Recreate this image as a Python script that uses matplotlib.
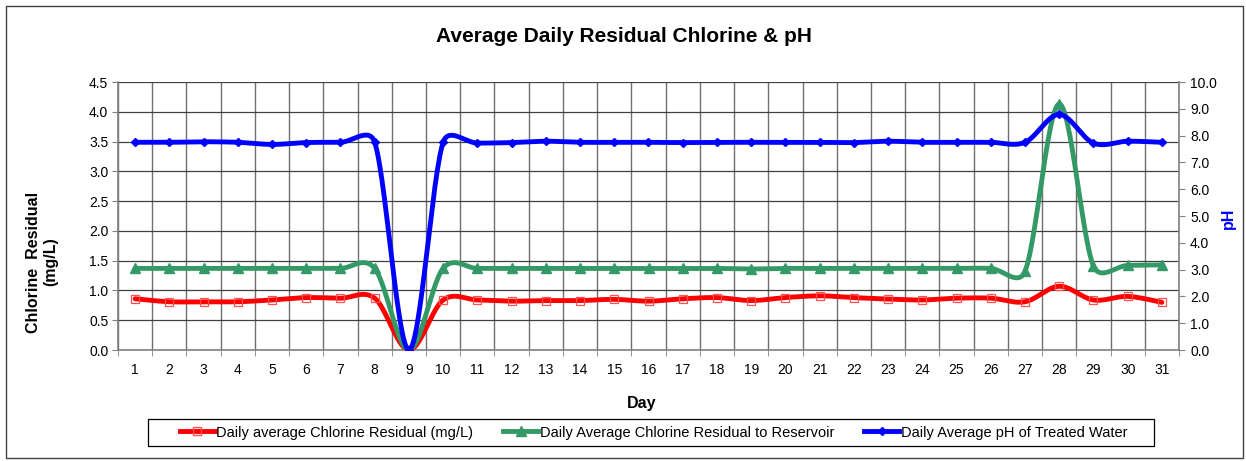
import numpy as np
import matplotlib
matplotlib.use("Agg")
from matplotlib import pyplot as plt
from matplotlib import rcParams
from matplotlib.patches import Rectangle

rcParams['font.family'] = ['Liberation Sans', 'DejaVu Sans']

days = list(range(1, 32))
chlorine = [0.86, 0.81, 0.81, 0.81, 0.84, 0.88, 0.87, 0.87, 0.0, 0.84,
            0.84, 0.82, 0.83, 0.83, 0.85, 0.82, 0.86, 0.88, 0.83, 0.88,
            0.91, 0.88, 0.855, 0.84, 0.87, 0.87, 0.81, 1.07, 0.84, 0.90, 0.80]
reservoir = [1.37, 1.37, 1.37, 1.37, 1.37, 1.37, 1.37, 1.37, 0.0, 1.37,
             1.37, 1.37, 1.37, 1.37, 1.37, 1.37, 1.37, 1.37, 1.36, 1.37,
             1.37, 1.37, 1.37, 1.37, 1.37, 1.37, 1.32, 4.13, 1.41, 1.42, 1.43]
ph = [7.75, 7.75, 7.77, 7.75, 7.67, 7.74, 7.75, 7.75, 0.0, 7.75,
      7.72, 7.74, 7.79, 7.75, 7.75, 7.75, 7.74, 7.75, 7.75, 7.75,
      7.75, 7.74, 7.79, 7.75, 7.75, 7.75, 7.75, 8.79, 7.72, 7.79, 7.75]

W, H = 1246, 461
X0, X1, Y0, Y1 = 118, 1179, 82, 350   # plot area in pixels


def smooth(x, y, ymax, n=30):
    # Excel-style smoothed line: Bezier through the points, tangents limited
    # to half the segment length (done in screen pixels)
    sx = (X1 - X0) / 31.0
    sy = (Y1 - Y0) / ymax
    P = np.column_stack([np.asarray(x, float) * sx, np.asarray(y, float) * sy])
    P = np.vstack([P[0], P, P[-1]])
    t = np.linspace(0, 1, n)[:, None]
    out = []
    for i in range(1, len(P) - 2):
        p0, p1, p2, p3 = P[i - 1], P[i], P[i + 1], P[i + 2]
        d02 = np.hypot(*(p2 - p0))
        d12 = np.hypot(*(p2 - p1))
        d13 = np.hypot(*(p3 - p1))
        f1 = 1 / 6 if d02 / 6 < d12 / 2 else d12 / 2 / d02
        f2 = 1 / 6 if d13 / 6 < d12 / 2 else d12 / 2 / d13
        c1 = p1 + (p2 - p0) * f1
        c2 = p2 - (p3 - p1) * f2
        pts = (1 - t) ** 3 * p1 + 3 * (1 - t) ** 2 * t * c1 + 3 * (1 - t) * t ** 2 * c2 + t ** 3 * p2
        out.append(pts)
    out = np.vstack(out)
    return out[:, 0] / sx, out[:, 1] / sy


fig = plt.figure(figsize=(W / 100, H / 100), dpi=100)
ax = fig.add_axes([X0 / W, 1 - Y1 / H, (X1 - X0) / W, (Y1 - Y0) / H])
ax2 = ax.twinx()

red = '#ff0000'
green = '#339966'
blue = '#0000ff'
lw = 3.5

cx, cy = smooth(days, chlorine, 4.5)
ax.plot(cx, cy, color=red, lw=lw, zorder=3, solid_capstyle='round')
ax.plot(days, chlorine, ls='none', marker='s', ms=6, mfc='none', mec='#ff5050', mew=0.9, zorder=4)
gx, gy = smooth(days, reservoir, 4.5)
ax.plot(gx, gy, color=green, lw=lw, zorder=3, solid_capstyle='round')
ax.plot(days, reservoir, ls='none', marker='^', ms=6.5, color=green, zorder=4)
bx, by = smooth(days, ph, 10.0)
ax2.plot(bx, by, color=blue, lw=lw, zorder=3, solid_capstyle='round')
ax2.plot(days, ph, ls='none', marker='D', ms=4.5, color=blue, zorder=4)

ax.set_xlim(0.5, 31.5)
ax.set_ylim(0, 4.5)
ax2.set_ylim(0, 10)
lt = np.arange(0, 4.51, 0.5)
ax.set_yticks(lt)
ax.set_yticklabels([f"{v:.1f}" for v in lt])
rt = np.arange(0, 10.01, 1)
ax2.set_yticks(rt)
ax2.set_yticklabels([f"{v:.1f}" for v in rt])

ax.set_xticks(days)
ax.set_xticklabels([str(d) for d in days])
ax.set_xticks(np.arange(0.5, 31.6, 1), minor=True)
ax.tick_params(axis='x', which='major', length=0, labelsize=10, pad=9)
ax.tick_params(axis='x', which='minor', length=4, direction='out', color='#808080')
ax.tick_params(axis='y', labelsize=10, length=4, color='#808080', pad=3)
ax2.tick_params(axis='y', labelsize=10, length=4, color='#808080', pad=4)

ax.grid(True, which='minor', axis='x', color='#707070', lw=1)
ax.grid(True, which='major', axis='y', color='#404040', lw=0.9)
ax.set_axisbelow(True)

for a in (ax, ax2):
    for s in a.spines.values():
        s.set_visible(False)
for a, side in ((ax, 'left'), (ax, 'bottom'), (ax2, 'right')):
    a.spines[side].set_visible(True)
    a.spines[side].set_color('#808080')
    a.spines[side].set_linewidth(1.2)

fig.text(624 / W, 1 - 37 / H, "Average Daily Residual Chlorine & pH", ha='center', va='center',
         fontsize=15, fontweight='bold')
fig.text(642 / W, 1 - 403 / H, "Day", ha='center', va='center', fontsize=11.5, fontweight='bold')
fig.text(42 / W, 1 - 262 / H, "Chlorine  Residual\n(mg/L)", ha='center', va='center', rotation=90,
         fontsize=11.5, fontweight='bold', linespacing=1.15)
fig.text(1228 / W, 1 - 218 / H, "pH", ha='center', va='center', rotation=90,
         fontsize=11.5, fontweight='bold', color=blue)

handles = [
    plt.Line2D([], [], color=red, lw=lw, marker='s', ms=6, mfc='none', mec='#ff5050'),
    plt.Line2D([], [], color=green, lw=lw, marker='^', ms=6.5),
    plt.Line2D([], [], color=blue, lw=lw, marker='D', ms=4.5),
]
labels = ["Daily average Chlorine Residual (mg/L)",
          "Daily Average Chlorine Residual to Reservoir",
          "Daily Average pH of Treated Water"]
leg = fig.legend(handles, labels, loc='center', bbox_to_anchor=(653.5 / W, 1 - 432.5 / H), ncol=3,
                 fontsize=10.5, frameon=False,
                 handlelength=2.4, handletextpad=0.1, columnspacing=2.05,
                 borderpad=0.2)
# legend box (wider padding at the sides than at top and bottom)
fig.patches.append(Rectangle((148 / W, 1 - 446 / H), (1154 - 148) / W, (446 - 419) / H,
                             transform=fig.transFigure, fill=False, edgecolor='black', lw=0.9))

fig.patches.append(Rectangle((6 / W, 1 - 458 / H), (1243 - 6) / W, (458 - 6) / H,
                             transform=fig.transFigure, fill=False, edgecolor='#404040', lw=1))

fig.savefig("out.png", dpi=100)
